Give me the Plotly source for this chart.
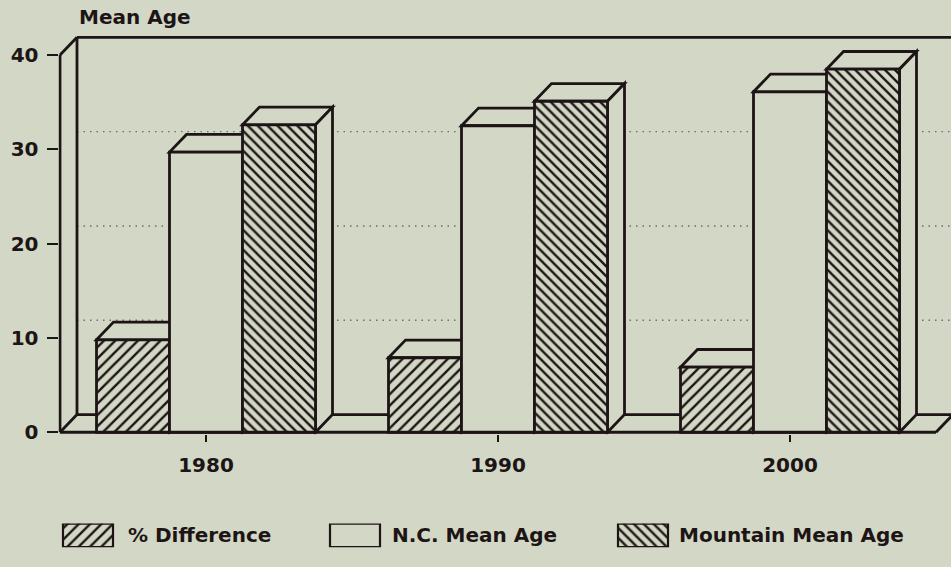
import plotly.graph_objects as go

# ---- data ----------------------------------------------------------------
years = ["1980", "1990", "2000"]
pct_difference = [9.8, 7.9, 6.9]
nc_mean_age = [29.7, 32.5, 36.1]
mountain_mean_age = [32.6, 35.1, 38.5]
series_names = ["% Difference", "N.C. Mean Age", "Mountain Mean Age"]
y_ticks = [0, 10, 20, 30, 40]
y_max = 40

# ---- style -----------------------------------------------------------------
W, H = 951, 567
BG = "#d3d7c5"
INK = "#1d1515"
FONT = "DejaVu Sans"
LW = 2.8

PX_PER_X = 292.0          # pixels per category step
PX_PER_Y = 9.6            # pixels per year of age
X_LEFT_PX, X_ZERO_PX = 58.5, 60.0   # plot edge / front axis
Y_TOP_PX, Y_ZERO_PX, Y_BOT_PX = 36.0, 440.0, 442.0

DX = 17 / PX_PER_X        # depth of the extrusion, x units
DY = 18 / PX_PER_Y        # depth of the extrusion, y units
BAR_W = 0.25
offsets = [-0.375, -0.125, 0.125]
patterns = ["/", "", "\\"]
pattern_sizes = [8, 8, 7]
pattern_solidity = [0.3, 0.3, 0.33]

x_lo = -0.5 - (X_ZERO_PX - X_LEFT_PX) / PX_PER_X
x_hi = -0.5 + (W - X_ZERO_PX) / PX_PER_X
y_lo = (Y_ZERO_PX - Y_BOT_PX) / PX_PER_Y
y_hi = (Y_ZERO_PX - Y_TOP_PX) / PX_PER_Y

series_values = [pct_difference, nc_mean_age, mountain_mean_age]
idx = list(range(len(years)))


def pattern(shape, size, solidity):
    return dict(shape=shape, fgcolor=INK, bgcolor=BG, size=size,
                solidity=solidity, fillmode="replace")


fig = go.Figure()

# front faces of the bars
for name, vals, off, pat, ps, sol in zip(series_names, series_values, offsets,
                                         patterns, pattern_sizes, pattern_solidity):
    fig.add_trace(go.Bar(
        x=idx, y=vals, width=BAR_W, offset=off, name=name,
        marker=dict(color=BG, line=dict(color=INK, width=LW), pattern=pattern(pat, ps, sol)),
        showlegend=False, hoverinfo="skip", xaxis="x", yaxis="y",
    ))

# legend keys, drawn as bars on a small helper axis
key_centers = [88, 355, 643]
for name, cx, pat, ps, sol in zip(series_names, key_centers, patterns,
                                  pattern_sizes, pattern_solidity):
    fig.add_trace(go.Bar(
        x=[cx], y=[1], width=[50], name=name, cliponaxis=False,
        marker=dict(color=BG, line=dict(color=INK, width=2.2), pattern=pattern(pat, ps, sol)),
        showlegend=False, hoverinfo="skip", xaxis="x2", yaxis="y2",
    ))

shapes = []


def line(x0, y0, x1, y1, **kw):
    d = dict(type="line", x0=x0, y0=y0, x1=x1, y1=y1, xref="x", yref="y",
             layer="below", line=dict(color=INK, width=LW))
    d["line"].update(kw)
    shapes.append(d)


bx = -0.5 + DX
# back wall and floor
line(bx, DY, bx, y_max + DY)
line(bx, y_max + DY, x_hi + 0.2, y_max + DY)
line(bx, DY, 2.5 + DX, DY)
# dotted grid on the back wall
for v in y_ticks[1:-1]:
    line(bx, v + DY, x_hi + 0.2, v + DY, width=1.4, dash="1.5px,5px",
         color="rgba(29,21,21,0.55)")
# front frame
line(-0.5, 0, -0.5, y_max)
line(-0.5, y_max, bx, y_max + DY)
line(-0.5, 0, bx, DY)
line(-0.5, 0, 2.5, 0)
line(2.5, 0, 2.5 + DX, DY)

# top and side faces of every bar
for vals, off in zip(series_values, offsets):
    for i, h in zip(idx, vals):
        x0 = i + off
        x1 = x0 + BAR_W
        for path in (
            f"M {x0},{h} L {x0 + DX},{h + DY} L {x1 + DX},{h + DY} L {x1},{h} Z",
            f"M {x1},0 L {x1 + DX},{DY} L {x1 + DX},{h + DY} L {x1},{h} Z",
        ):
            shapes.append(dict(type="path", path=path, xref="x", yref="y",
                               layer="below", fillcolor=BG,
                               line=dict(color=INK, width=LW)))

text_font = dict(family=FONT, size=20, color=INK, weight="bold")

annotations = [dict(text="Mean Age", x=77 / W, y=1 - 17 / H, xref="paper", yref="paper",
                    xanchor="left", yanchor="middle", showarrow=False, font=text_font)]
for name, lx in zip(series_names, [126, 390, 677]):
    annotations.append(dict(text=name, x=lx / W, y=1 - 545 / H, xref="paper", yref="paper",
                            xanchor="left", yanchor="middle", showarrow=False, font=text_font))

fig.update_layout(
    width=W, height=H,
    margin=dict(l=0, r=0, t=0, b=0),
    paper_bgcolor=BG, plot_bgcolor=BG,
    barmode="overlay",
    shapes=shapes,
    annotations=annotations,
    xaxis=dict(domain=[X_LEFT_PX / W, 1], range=[x_lo, x_hi], anchor="y",
               tickvals=idx, ticktext=years, ticks="outside", ticklen=7,
               tickwidth=2, tickcolor=INK, tickfont=text_font, ticklabelstandoff=6,
               showgrid=False, zeroline=False, showline=False),
    yaxis=dict(domain=[1 - Y_BOT_PX / H, 1 - Y_TOP_PX / H], range=[y_lo, y_hi], anchor="x",
               tickvals=y_ticks, ticks="outside", ticklen=11, tickwidth=2,
               tickcolor=INK, tickfont=text_font, ticklabelstandoff=4,
               showgrid=False, zeroline=False, showline=False),
    xaxis2=dict(domain=[0, 1], range=[0, W], anchor="y2", visible=False),
    yaxis2=dict(domain=[1 - 557 / H, 1 - 533 / H], range=[0, 1], anchor="x2", visible=False),
)

fig.write_html("out.html")
